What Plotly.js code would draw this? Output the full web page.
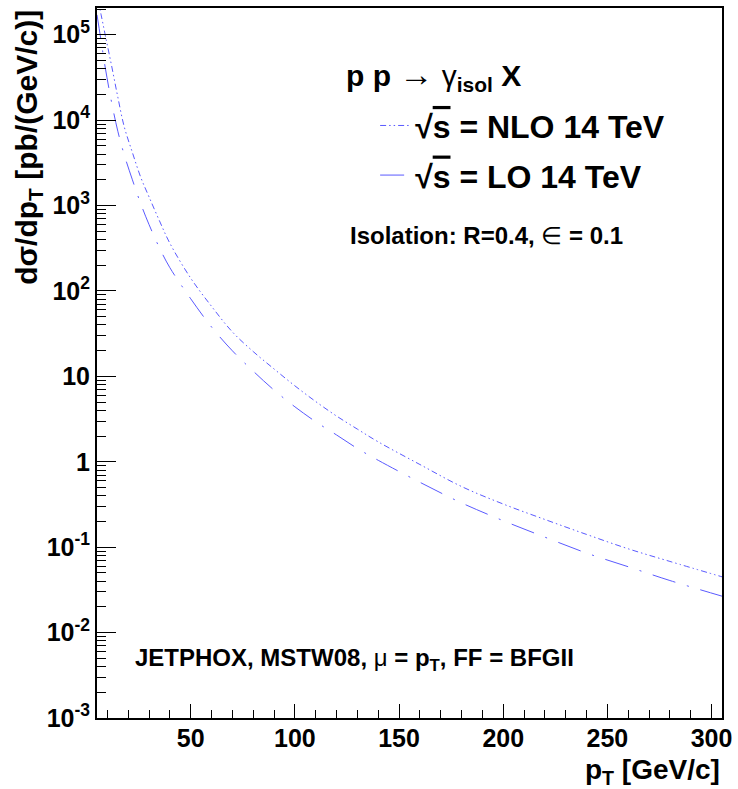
<!DOCTYPE html>
<html>
<head>
<meta charset="utf-8">
<script src="https://cdn.plot.ly/plotly-3.0.1.min.js"></script>
<style>html,body{margin:0;padding:0;background:#fff;}#chart{width:738px;height:789px;}</style>
</head>
<body>
<div id="chart"></div>
<script>
// pT grid [GeV/c]
const pT = [5, 7, 9, 12, 15, 18, 22, 26, 30, 35, 40, 50, 60, 70, 80, 90, 100, 110, 120, 130, 140, 160, 180, 200, 220, 240, 260, 280, 305];
// dsigma/dpT [pb/(GeV/c)], NLO 14 TeV
const nlo = [2.88e5, 1.70e5, 9.8e4, 4.34e4, 1.86e4, 8.5e3, 4.17e3, 2.14e3, 1.26e3, 661, 361, 141, 66, 33.1, 19.5, 12.2, 7.74, 5.07, 3.43, 2.41, 1.71, 0.929, 0.513, 0.320, 0.211, 0.141, 0.0957, 0.0681, 0.045];
// LO 14 TeV
const lo = [1.71e5, 8.36e4, 4.07e4, 1.62e4, 7.41e3, 3.98e3, 2.0e3, 1.05e3, 597, 319, 187, 80.9, 37.8, 19.9, 11.5, 6.9, 4.40, 2.94, 2.06, 1.43, 1.04, 0.575, 0.330, 0.204, 0.131, 0.0853, 0.059, 0.0407, 0.0267];
const seriesNames = ['√<span style="text-decoration:overline">s</span> = NLO 14 TeV', '√<span style="text-decoration:overline">s</span> = LO 14 TeV'];
const yTickVals = [1e-3, 1e-2, 1e-1, 1, 10, 100, 1e3, 1e4, 1e5];
const yTickText = ['10<sup>-3</sup>', '10<sup>-2</sup>', '10<sup>-1</sup>', '1', '10', '10<sup>2</sup>', '10<sup>3</sup>', '10<sup>4</sup>', '10<sup>5</sup>'];
const xTickVals = [50, 100, 150, 200, 250, 300];

const FONT = 'Liberation Sans, Arial, Helvetica, sans-serif';
const BLUE = '#5a5aff';

const traces = [
  {x: pT, y: nlo, type: 'scatter', mode: 'lines', name: '<b>' + seriesNames[0] + '</b>', legendgroup: 'a',
   line: {color: BLUE, width: 1, dash: '6px,3px,1.5px,3px,1.5px,3px', shape: 'spline'}},
  {x: pT, y: lo, type: 'scatter', mode: 'lines', name: '<b>' + seriesNames[1] + '</b>', legendgroup: 'b',
   line: {color: BLUE, width: 1, dash: '24px,12px,2px,12px', shape: 'spline'}}
];

const layout = {
  width: 738, height: 789,
  margin: {l: 97, r: 16, t: 8, b: 71, pad: 0},
  paper_bgcolor: '#fff', plot_bgcolor: '#fff',
  font: {family: FONT, color: '#000'},
  showlegend: true,
  legend: {x: 0.445, y: 0.873, xanchor: 'left', yanchor: 'top', bgcolor: 'rgba(0,0,0,0)',
           font: {family: FONT, size: 32, color: '#000'}, tracegroupgap: 5, traceorder: 'grouped'},
  xaxis: {range: [5, 305], showline: true, mirror: true, linecolor: '#000', linewidth: 2,
          showgrid: false, zeroline: false, ticks: 'inside', ticklen: 14, tickcolor: '#000', tickwidth: 1,
          tickvals: xTickVals, ticktext: xTickVals.map(v => '<b>' + v + '</b>'),
          tickfont: {family: FONT, size: 25, color: '#000'}, ticklabelstandoff: -3,
          minor: {ticks: 'inside', ticklen: 8, tickcolor: '#000', tickwidth: 1, dtick: 10, tick0: 0, showgrid: false}},
  yaxis: {type: 'log', range: [-3, 5.313], showline: true, mirror: true, linecolor: '#000', linewidth: 2,
          showgrid: false, zeroline: false, ticks: 'inside', ticklen: 19, tickcolor: '#000', tickwidth: 1,
          tickvals: yTickVals, ticktext: yTickText.map(t => '<b>' + t + '</b>'),
          tickfont: {family: FONT, size: 25, color: '#000'},
          minor: {ticks: 'inside', ticklen: 9, tickcolor: '#000', tickwidth: 1, dtick: 'D1', showgrid: false}},
  annotations: [
    {xref: 'paper', yref: 'paper', x: 0.395, y: 0.905, xanchor: 'left', yanchor: 'middle', showarrow: false,
     text: '<b>p p</b> <span style="font-size:34px">→</span> γ<b><sub>isol</sub> X</b>', font: {family: FONT, size: 30, color: '#000'}},
    {xref: 'paper', yref: 'paper', x: 0.402, y: 0.680, xanchor: 'left', yanchor: 'middle', showarrow: false,
     text: '<b>Isolation: R=0.4, </b>∈<b> = 0.1</b>', font: {family: FONT, size: 24, color: '#000'}},
    {xref: 'paper', yref: 'paper', x: 0.0576, y: 0.082, xanchor: 'left', yanchor: 'middle', showarrow: false,
     text: '<b>JETPHOX, MSTW08, </b>μ<b> = p<sub>T</sub>, FF = BFGII</b>', font: {family: FONT, size: 24, color: '#000'}},
    {xref: 'paper', yref: 'paper', x: -0.11, y: 1.0, xanchor: 'center', yanchor: 'top', textangle: -90, showarrow: false,
     text: '<b>dσ/dp<sub>T</sub> [pb/(GeV/c)]</b>', font: {family: FONT, size: 30, color: '#000'}},
    {xref: 'paper', yref: 'paper', x: 1.0, y: -0.075, xanchor: 'right', yanchor: 'middle', showarrow: false,
     text: '<b>p<sub>T</sub> [GeV/c]</b>', font: {family: FONT, size: 28, color: '#000'}}
  ]
};

Plotly.newPlot('chart', traces, layout, {displayModeBar: false, staticPlot: true});
</script>
</body>
</html>
